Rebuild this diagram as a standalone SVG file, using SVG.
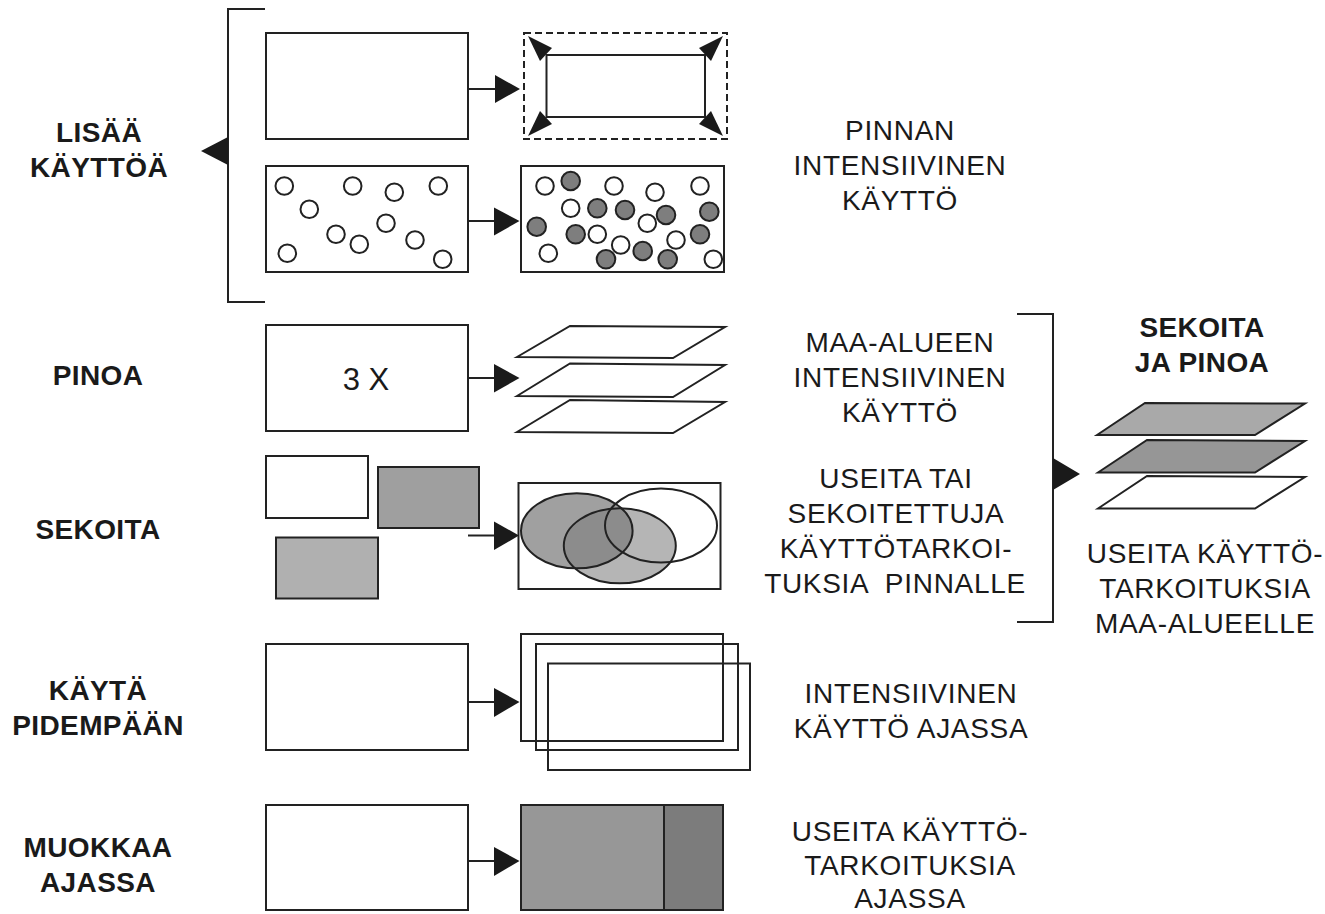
<svg xmlns="http://www.w3.org/2000/svg" width="1325" height="914" viewBox="0 0 1325 914">
<style>
.b{fill:#fff;stroke:#222;stroke-width:2}
.o{fill:none;stroke:#222;stroke-width:2}
.ln{fill:none;stroke:#222;stroke-width:2}
.ah{fill:#1a1a1a;stroke:none}
.cw{fill:#fff;stroke:#222;stroke-width:2}
.cg{fill:#7e7e7e;stroke:#222;stroke-width:2}
.lb{font-family:"Liberation Sans",Arial,sans-serif;font-weight:bold;font-size:28px;fill:#1a1a1a;text-anchor:middle;letter-spacing:0.4px}
.tx{font-family:"Liberation Sans",Arial,sans-serif;font-size:28px;fill:#1a1a1a;text-anchor:middle;letter-spacing:0.7px}
</style>
<defs>
<clipPath id="clipA"><ellipse cx="576.8" cy="530.8" rx="55.8" ry="37.5"/></clipPath>
</defs>
<rect width="1325" height="914" fill="#fff"/>

<g id="labels-left">
<text class="lb" x="99" y="142">LISÄÄ</text>
<text class="lb" x="99" y="177">KÄYTTÖÄ</text>
<text class="lb" x="98" y="385">PINOA</text>
<text class="lb" x="98" y="539">SEKOITA</text>
<text class="lb" x="98" y="700">KÄYTÄ</text>
<text class="lb" x="98" y="735">PIDEMPÄÄN</text>
<text class="lb" x="98" y="857">MUOKKAA</text>
<text class="lb" x="98" y="892">AJASSA</text>
</g>

<g id="bracket-left">
<polyline class="ln" points="265,9 228,9 228,302 265,302"/>
<polygon class="ah" points="228,137 201,151 228,165"/>
</g>

<g id="row1-source"><rect class="b" x="266" y="33" width="202" height="106"/></g>
<g id="row1-target">
<rect x="524" y="33" width="203" height="106" fill="none" stroke="#222" stroke-width="2" stroke-dasharray="7,4"/>
<rect class="b" x="546.5" y="55" width="158.5" height="62"/>
<polygon class="ah" points="528,36 552,48 540,61"/>
<polygon class="ah" points="723,36 699,48 711,61"/>
<polygon class="ah" points="528,136 552,124 540,111"/>
<polygon class="ah" points="723,136 699,124 711,111"/>
</g>

<g id="row2-source">
<rect class="b" x="266" y="166" width="202" height="106"/>
<circle class="cw" cx="284.3" cy="186" r="8.8"/>
<circle class="cw" cx="352.7" cy="186" r="8.8"/>
<circle class="cw" cx="394.3" cy="192.3" r="8.8"/>
<circle class="cw" cx="438.3" cy="186" r="8.8"/>
<circle class="cw" cx="309.3" cy="209.3" r="8.8"/>
<circle class="cw" cx="386" cy="223.3" r="8.8"/>
<circle class="cw" cx="336" cy="234.3" r="8.8"/>
<circle class="cw" cx="359.3" cy="244.3" r="8.8"/>
<circle class="cw" cx="415" cy="240" r="8.8"/>
<circle class="cw" cx="287.3" cy="253.3" r="8.8"/>
<circle class="cw" cx="442.7" cy="259.3" r="8.8"/>
</g>
<g id="row2-target">
<rect class="b" x="521" y="166" width="203" height="106"/>
<circle class="cw" cx="545" cy="186" r="8.8"/>
<circle class="cg" cx="570.7" cy="181" r="9.3"/>
<circle class="cw" cx="614" cy="186" r="8.8"/>
<circle class="cw" cx="655" cy="192.3" r="8.8"/>
<circle class="cw" cx="700" cy="186" r="8.8"/>
<circle class="cw" cx="570.7" cy="208.3" r="8.8"/>
<circle class="cg" cx="597.3" cy="208.3" r="9.3"/>
<circle class="cg" cx="625" cy="210" r="9.3"/>
<circle class="cg" cx="666" cy="215" r="9.3"/>
<circle class="cg" cx="709.3" cy="211.7" r="9.3"/>
<circle class="cw" cx="647.3" cy="223.3" r="8.8"/>
<circle class="cg" cx="536.7" cy="226.7" r="9.3"/>
<circle class="cg" cx="575.7" cy="234.3" r="9.3"/>
<circle class="cw" cx="597.3" cy="234.3" r="8.8"/>
<circle class="cw" cx="620.7" cy="245" r="8.8"/>
<circle class="cg" cx="642.7" cy="251" r="9.3"/>
<circle class="cw" cx="676" cy="240" r="8.8"/>
<circle class="cg" cx="700" cy="234.3" r="9.3"/>
<circle class="cw" cx="548.3" cy="253.3" r="8.8"/>
<circle class="cg" cx="606" cy="259.3" r="9.3"/>
<circle class="cg" cx="667.7" cy="259.3" r="9.3"/>
<circle class="cw" cx="713.3" cy="259.3" r="8.8"/>
</g>

<g id="row3-source">
<rect class="b" x="266" y="325" width="202" height="106"/>
<text class="tx" x="366" y="390" style="font-size:31px;letter-spacing:0">3 X</text>
</g>
<g id="row3-target">
<polygon class="b" points="517,357 570,326 725,327 673,358"/>
<polygon class="b" points="517,396 570,363.5 725,365 673,397"/>
<polygon class="b" points="517,432 570,400 725,402 673,433"/>
</g>

<g id="row4-source">
<rect class="b" x="266" y="456" width="102" height="62"/>
<rect x="378" y="467" width="101" height="61" fill="#9f9f9f" stroke="#222" stroke-width="2"/>
<rect x="276" y="537.5" width="102" height="61" fill="#b0b0b0" stroke="#222" stroke-width="2"/>
</g>
<g id="row4-target">
<rect class="b" x="518.5" y="483" width="202" height="106"/>
<ellipse cx="576.8" cy="530.8" rx="55.8" ry="37.5" fill="#a0a0a0"/>
<ellipse cx="619.8" cy="545.8" rx="56" ry="37.5" fill="#b5b5b5"/>
<ellipse cx="619.8" cy="545.8" rx="56" ry="37.5" fill="#8c8c8c" clip-path="url(#clipA)"/>
<ellipse class="o" cx="576.8" cy="530.8" rx="55.8" ry="37.5"/>
<ellipse class="o" cx="661" cy="525.5" rx="56" ry="37"/>
<ellipse class="o" cx="619.8" cy="545.8" rx="56" ry="37.5"/>
</g>

<g id="row5-source"><rect class="b" x="266" y="644" width="202" height="106"/></g>
<g id="row5-target">
<rect class="o" x="521" y="634" width="202" height="107"/>
<rect class="o" x="536" y="644" width="202" height="106"/>
<rect class="o" x="548" y="663.5" width="202" height="106.5"/>
</g>

<g id="row6-source"><rect class="b" x="266" y="805" width="202" height="105"/></g>
<g id="row6-target">
<rect x="521" y="805" width="143" height="105" fill="#979797" stroke="#222" stroke-width="2"/>
<rect x="664" y="805" width="59" height="105" fill="#7c7c7c" stroke="#222" stroke-width="2"/>
</g>

<g id="connectors">
<line class="ln" x1="468" y1="89" x2="496" y2="89"/>
<polygon class="ah" points="495,75 520,89 495,103"/>
<line class="ln" x1="468" y1="221" x2="496" y2="221"/>
<polygon class="ah" points="494,207.5 519.5,221 494,235.5"/>
<line class="ln" x1="468" y1="378" x2="496" y2="378"/>
<polygon class="ah" points="494,364 519.5,378 494,392.5"/>
<line class="ln" x1="468" y1="535.5" x2="496" y2="535.5"/>
<polygon class="ah" points="494,521.5 519,535.5 494,550"/>
<line class="ln" x1="468" y1="702" x2="496" y2="702"/>
<polygon class="ah" points="494,688 519.5,702 494,717"/>
<line class="ln" x1="468" y1="861" x2="496" y2="861"/>
<polygon class="ah" points="494,847 519.5,861 494,876"/>
</g>

<g id="labels-middle">
<text class="tx" x="900" y="140">PINNAN</text>
<text class="tx" x="900" y="175">INTENSIIVINEN</text>
<text class="tx" x="900" y="210">KÄYTTÖ</text>
<text class="tx" x="900" y="352">MAA-ALUEEN</text>
<text class="tx" x="900" y="387">INTENSIIVINEN</text>
<text class="tx" x="900" y="422">KÄYTTÖ</text>
<text class="tx" x="896" y="488">USEITA TAI</text>
<text class="tx" x="896" y="523">SEKOITETTUJA</text>
<text class="tx" x="896" y="558">KÄYTTÖTARKOI-</text>
<text class="tx" x="895" y="593" xml:space="preserve">TUKSIA  PINNALLE</text>
<text class="tx" x="911" y="703">INTENSIIVINEN</text>
<text class="tx" x="911" y="738">KÄYTTÖ AJASSA</text>
<text class="tx" x="910" y="841">USEITA KÄYTTÖ-</text>
<text class="tx" x="910" y="875">TARKOITUKSIA</text>
<text class="tx" x="910" y="908">AJASSA</text>
</g>

<g id="bracket-right">
<polyline class="ln" points="1017,314 1053,314 1053,622 1017,622"/>
<polygon class="ah" points="1053,458 1080,474 1053,490"/>
</g>

<g id="result">
<text class="lb" x="1202" y="337">SEKOITA</text>
<text class="lb" x="1202" y="372">JA PINOA</text>
<polygon points="1097,435 1145,403 1305,403.5 1255,435" fill="#a9a9a9" stroke="#222" stroke-width="2"/>
<polygon points="1098,472.5 1147,440 1305,441 1255,472.5" fill="#969696" stroke="#222" stroke-width="2"/>
<polygon class="b" points="1098,508.5 1147,476 1305,477 1255,508.5"/>
<text class="tx" x="1205" y="563">USEITA KÄYTTÖ-</text>
<text class="tx" x="1205" y="598">TARKOITUKSIA</text>
<text class="tx" x="1205" y="633">MAA-ALUEELLE</text>
</g>
</svg>
